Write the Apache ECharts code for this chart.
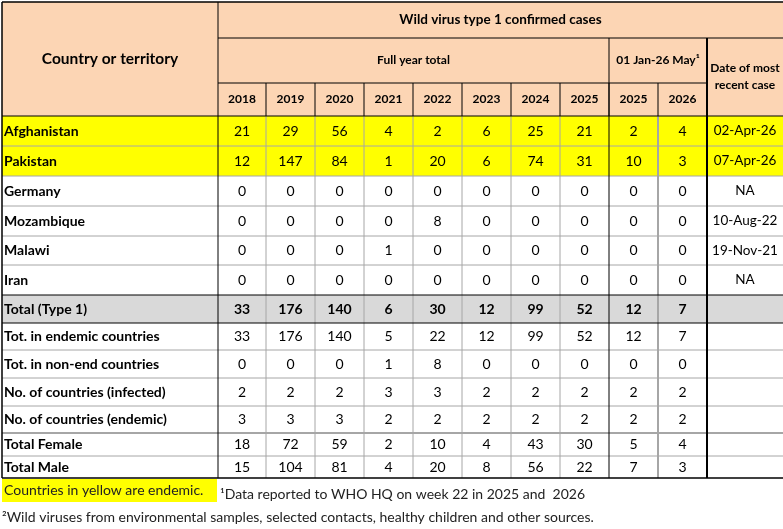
<!DOCTYPE html>
<html>
<head>
<meta charset="utf-8">
<script src="https://cdn.jsdelivr.net/npm/echarts@6/dist/echarts.min.js"></script>
<style>
  html, body { margin: 0; padding: 0; background: #fff; }
  #chart { width: 783px; height: 529px; }
</style>
</head>
<body>
<div id="chart"></div>
<script>
// data
var fullYears = ['2018', '2019', '2020', '2021', '2022', '2023', '2024', '2025'];
var partYears = ['2025', '2026'];
var countries = ['Afghanistan', 'Pakistan', 'Germany', 'Mozambique', 'Malawi', 'Iran'];
var endemic = [true, true, false, false, false, false];
var afghanistan = [21, 29, 56, 4, 2, 6, 25, 21, 2, 4];
var pakistan = [12, 147, 84, 1, 20, 6, 74, 31, 10, 3];
var germany = [0, 0, 0, 0, 0, 0, 0, 0, 0, 0];
var mozambique = [0, 0, 0, 0, 8, 0, 0, 0, 0, 0];
var malawi = [0, 0, 0, 1, 0, 0, 0, 0, 0, 0];
var iran = [0, 0, 0, 0, 0, 0, 0, 0, 0, 0];
var recentDates = ['02-Apr-26', '07-Apr-26', 'NA', '10-Aug-22', '19-Nov-21', 'NA'];
var totalType1 = [33, 176, 140, 6, 30, 12, 99, 52, 12, 7];
var summaryLabels = ['Tot. in endemic countries', 'Tot. in non-end countries',
  'No. of countries (infected)', 'No. of countries (endemic)', 'Total Female', 'Total Male'];
var endemicTotals = [33, 176, 140, 5, 22, 12, 99, 52, 12, 7];
var nonEndemicTotals = [0, 0, 0, 1, 8, 0, 0, 0, 0, 0];
var infectedCountries = [2, 2, 2, 3, 3, 2, 2, 2, 2, 2];
var endemicCountries = [3, 3, 3, 2, 2, 2, 2, 2, 2, 2];
var totalFemale = [18, 72, 59, 2, 10, 4, 43, 30, 5, 4];
var totalMale = [15, 104, 81, 4, 20, 8, 56, 22, 7, 3];

var countryValues = [afghanistan, pakistan, germany, mozambique, malawi, iran];
var summaryValues = [endemicTotals, nonEndemicTotals, infectedCountries, endemicCountries, totalFemale, totalMale];

// layout of the table (pixel units of the hidden axes)
var colEdges = [2, 218, 266, 315, 364, 413, 462, 511, 560, 609, 658, 707, 790];
var rowEdges = [2, 38, 83, 116, 146, 176, 206, 236, 265, 295, 323, 350, 378, 406, 433, 456, 478];
var FONT = 'Lato, "Open Sans", sans-serif';
var PEACH = '#fcd5b4', YELLOW = '#ffff00', GREY = '#d9d9d9', LINE = '#a6a6a6';

var cells = [];
function cell(x0, y0, x1, y1, text, opt) {
  opt = opt || {};
  cells.push({
    x0: x0, y0: y0, x1: x1, y1: y1, text: text,
    fill: opt.fill || null, bold: !!opt.bold, size: opt.size || 14,
    align: opt.align || 'center', color: opt.color || '#000'
  });
}

// header
cell(colEdges[0], rowEdges[0], colEdges[12], rowEdges[3], '', { fill: PEACH });
cell(colEdges[0], rowEdges[0], colEdges[1], rowEdges[3], 'Country or territory', { bold: true, size: 15.5 });
cell(colEdges[1], rowEdges[0], 783, rowEdges[1], 'Wild virus type 1 confirmed cases', { bold: true, size: 13.5 });
cell(colEdges[1], rowEdges[1], colEdges[9], rowEdges[2], 'Full year total', { bold: true, size: 12 });
cell(colEdges[9], rowEdges[1], colEdges[11], rowEdges[2], '01 Jan-26 May\u00b9', { bold: true, size: 12 });
cell(colEdges[11], rowEdges[1], 783, rowEdges[3], 'Date of most\nrecent case', { bold: true, size: 12 });
fullYears.concat(partYears).forEach(function (y, i) {
  cell(colEdges[i + 1], rowEdges[2], colEdges[i + 2], rowEdges[3], y, { bold: true, size: 12 });
});

// country rows
countries.forEach(function (name, r) {
  var fill = endemic[r] ? YELLOW : null;
  var y0 = rowEdges[3 + r], y1 = rowEdges[4 + r];
  cell(colEdges[0], y0, colEdges[12], y1, '', { fill: fill });
  cell(colEdges[0], y0, colEdges[1], y1, name, { bold: true, align: 'left' });
  countryValues[r].forEach(function (v, c) {
    cell(colEdges[c + 1], y0, colEdges[c + 2], y1, String(v));
  });
  cell(colEdges[11], y0, 783, y1, recentDates[r], { size: 13.5 });
});

// total row
(function () {
  var y0 = rowEdges[9], y1 = rowEdges[10];
  cell(colEdges[0], y0, colEdges[12], y1, '', { fill: GREY });
  cell(colEdges[0], y0, colEdges[1], y1, 'Total (Type 1)', { bold: true, align: 'left' });
  totalType1.forEach(function (v, c) {
    cell(colEdges[c + 1], y0, colEdges[c + 2], y1, String(v), { bold: true });
  });
})();

// summary rows
summaryLabels.forEach(function (name, r) {
  var y0 = rowEdges[10 + r], y1 = rowEdges[11 + r];
  cell(colEdges[0], y0, colEdges[1], y1, name, { bold: true, align: 'left' });
  summaryValues[r].forEach(function (v, c) {
    cell(colEdges[c + 1], y0, colEdges[c + 2], y1, String(v));
  });
});

// footnotes
cell(2, 479, 217, 502, '', { fill: YELLOW });
cell(2, 479, 217, 502, 'Countries in yellow are endemic.', { align: 'left', color: '#222' });
cell(218, 482, 783, 506, '\u00b9Data reported to WHO HQ on week 22 in 2025 and  2026', { align: 'left', color: '#222' });
cell(0, 506, 783, 529, '\u00b2Wild viruses from environmental samples, selected contacts, healthy children and other sources.', { align: 'left', color: '#222' });

// grid lines
var lines = [];
function hline(y, x0, x1, color, w) { lines.push([x0, y, x1, y, color, w]); }
function vline(x, y0, y1, color, w) { lines.push([x, y0, x, y1, color, w]); }
var right = 790, bottom = rowEdges[16];
[146, 176, 206, 236, 265, 350, 378, 406, 456].forEach(function (y) { hline(y, 2, right, LINE, 1); });
hline(433, 2, right, LINE, 2);
for (var c = 2; c <= 8; c++) vline(colEdges[c], rowEdges[3], bottom, LINE, 1);
vline(colEdges[10], rowEdges[3], bottom, LINE, 2);
hline(rowEdges[0], 2, right, '#000', 1.5);
hline(rowEdges[1], colEdges[1], right, '#000', 1);
hline(rowEdges[2], colEdges[1], colEdges[11], '#000', 1);
hline(rowEdges[3], 2, right, '#000', 1);
hline(rowEdges[9], 2, right, '#000', 1);
hline(rowEdges[10], 2, right, '#000', 1);
hline(bottom, 2, right, '#000', 1.5);
vline(colEdges[0], rowEdges[0], bottom, '#000', 1.5);
vline(colEdges[1], rowEdges[0], bottom, '#000', 1);
for (var k = 2; k <= 10; k++) vline(colEdges[k], rowEdges[2], rowEdges[3], '#000', 1);
vline(colEdges[9], rowEdges[1], bottom, '#000', 1);
vline(colEdges[11], rowEdges[1], bottom, '#000', 2);

var myChart = echarts.init(document.getElementById('chart'));
var option = {
  animation: false,
  grid: { left: 0, right: 0, top: 0, bottom: 0 },
  xAxis: { type: 'value', min: 0, max: 783, show: false },
  yAxis: { type: 'value', min: 0, max: 529, inverse: true, show: false },
  series: [{
    type: 'custom',
    coordinateSystem: 'cartesian2d',
    data: cells.map(function (d) { return [d.x0, d.y0, d.x1, d.y1]; }),
    renderItem: function (params, api) {
      var d = cells[params.dataIndex];
      var p0 = api.coord([api.value(0), api.value(1)]);
      var p1 = api.coord([api.value(2), api.value(3)]);
      var children = [];
      if (d.fill) {
        children.push({ type: 'rect', shape: { x: p0[0], y: p0[1], width: p1[0] - p0[0], height: p1[1] - p0[1] },
          style: { fill: d.fill } });
      }
      if (d.text) {
        children.push({ type: 'text', style: {
          x: d.align === 'left' ? p0[0] + 2 : (p0[0] + p1[0]) / 2,
          y: (p0[1] + p1[1]) / 2,
          text: d.text, fill: d.color, align: d.align, verticalAlign: 'middle',
          font: (d.bold ? 'bold ' : '') + d.size + 'px ' + FONT, lineHeight: 17
        } });
      }
      return { type: 'group', children: children };
    },
    silent: true
  }, {
    type: 'custom',
    coordinateSystem: 'cartesian2d',
    data: lines.map(function (l) { return [l[0], l[1], l[2], l[3]]; }),
    renderItem: function (params, api) {
      var l = lines[params.dataIndex];
      var p0 = api.coord([api.value(0), api.value(1)]);
      var p1 = api.coord([api.value(2), api.value(3)]);
      return { type: 'line', shape: { x1: p0[0], y1: p0[1], x2: p1[0], y2: p1[1] },
        style: { stroke: l[4], lineWidth: l[5] } };
    },
    silent: true,
    z: 3
  }]
};
myChart.setOption(option);
</script>
</body>
</html>
